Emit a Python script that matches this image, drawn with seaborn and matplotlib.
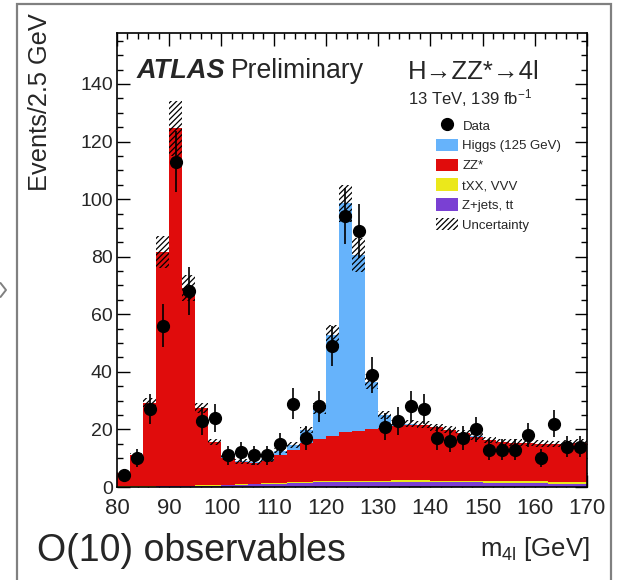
import numpy as np
import pandas as pd
import matplotlib
matplotlib.use('Agg')
import matplotlib.pyplot as plt
import seaborn as sns
from matplotlib.ticker import MultipleLocator
from matplotlib.patches import Patch, Rectangle
from matplotlib.lines import Line2D

# ---------------- data ----------------
bin_edges = np.arange(80, 170.01, 2.5)
bin_centers = (bin_edges[:-1] + bin_edges[1:]) / 2

data_counts = [4, 10, 27, 56, 113, 68, 23, 24, 11, 12, 11, 11,
               15, 29, 17, 28, 49, 94, 89, 39, 21, 23, 28, 27,
               17, 16, 17, 20, 13, 13, 13, 18, 10, 22, 14, 14]

higgs = [0, 0, 0, 0, 0, 0, 0, 0, 0.1, 0.2, 0.3, 0.4,
         1.6, 1.8, 4.6, 10.6, 35.0, 79.5, 61.0, 16.5, 4.4, 0.8, 0.3, 0.2,
         0.1, 0.1, 0.1, 0.1, 0.1, 0.1, 0.1, 0.1, 0.1, 0.1, 0.1, 0.1]

zz = [4.55, 10.85, 29.0, 81.35, 124.2, 68.55, 26.95, 14.85, 9.4, 7.7, 7.2, 7.9,
      9.55, 11.15, 13.4, 14.75, 15.75, 16.9, 17.4, 17.85, 18.35, 18.9, 19.4, 19.2,
      18.5, 17.55, 16.45, 15.35, 14.2, 13.5, 13.3, 13.2, 13.05, 13.05, 13.3, 13.5]

txx_vvv = [0.15, 0.15, 0.15, 0.15, 0.15, 0.15, 0.15, 0.15, 0.2, 0.2, 0.2, 0.2,
           0.25, 0.25, 0.3, 0.35, 0.35, 0.4, 0.4, 0.45, 0.45, 0.5, 0.5, 0.5,
           0.5, 0.55, 0.55, 0.55, 0.6, 0.6, 0.6, 0.6, 0.65, 0.65, 0.7, 0.7]

zjets_tt = [0.1, 0.1, 0.15, 0.2, 0.25, 0.3, 0.4, 0.5, 0.6, 0.8, 0.9, 1.1,
            1.2, 1.4, 1.5, 1.6, 1.7, 1.7, 1.8, 1.8, 1.8, 1.8, 1.8, 1.8,
            1.7, 1.7, 1.6, 1.6, 1.5, 1.5, 1.4, 1.4, 1.3, 1.2, 1.1, 1.1]

uncertainty = [0.5, 0.8, 1.5, 5.5, 9.5, 4.5, 1.8, 1.0, 0.8, 0.8, 0.8, 0.8,
               0.9, 1.0, 1.2, 1.8, 3.5, 6.5, 6.0, 2.5, 1.5, 1.3, 1.3, 1.3,
               1.2, 1.2, 1.2, 1.2, 1.1, 1.1, 1.1, 1.1, 1.1, 1.1, 1.1, 1.1]

process_names = ['Higgs (125 GeV)', 'ZZ*', 'tXX, VVV', 'Z+jets, tt']
process_colors = ['#66b3fb', '#e00c0c', '#ebe81b', '#7a40d3']

# ---------------- figure ----------------
sns.set_theme(style='ticks')
plt.rcParams['font.family'] = ['Liberation Sans', 'DejaVu Sans']
plt.rcParams['mathtext.fontset'] = 'custom'
plt.rcParams['mathtext.rm'] = 'Liberation Sans'
plt.rcParams['mathtext.it'] = 'Liberation Sans:italic'
plt.rcParams['hatch.linewidth'] = 0.9

W, H = 621, 580
fig = plt.figure(figsize=(W / 100, H / 100), dpi=100)
ax = fig.add_axes([117 / W, 1 - 487 / H, 470 / W, 454 / H])

df = pd.concat([
    pd.DataFrame({'m': bin_centers, 'w': vals, 'process': name})
    for name, vals in zip(process_names, [higgs, zz, txx_vvv, zjets_tt])
], ignore_index=True)

sns.histplot(data=df, x='m', weights='w', hue='process', hue_order=process_names,
             binwidth=2.5, binrange=(80, 170), multiple='stack', element='step', fill=True,
             palette=process_colors, alpha=1, linewidth=0, legend=False, ax=ax)

total = np.array(higgs) + np.array(zz) + np.array(txx_vvv) + np.array(zjets_tt)
unc = np.array(uncertainty)
ax.bar(bin_centers, 2 * unc, bottom=total - unc, width=2.5, fill=False,
       hatch='//////', linewidth=0, edgecolor='black', zorder=3)

data_arr = np.array(data_counts, dtype=float)
eb = ax.errorbar(bin_centers, data_arr, yerr=np.sqrt(data_arr), fmt='o',
                 color='black', ms=8.5, elinewidth=1.2, capsize=0, zorder=5)

ax.set_xlim(80, 170)
ax.set_ylim(0, 157.7)
ax.set_xlabel('')
ax.set_ylabel('')
ax.xaxis.set_major_locator(MultipleLocator(10))
ax.xaxis.set_minor_locator(MultipleLocator(2))
ax.yaxis.set_major_locator(MultipleLocator(20))
ax.yaxis.set_minor_locator(MultipleLocator(5))
ax.tick_params(which='both', direction='in', top=True, right=True, color='black')
ax.tick_params(which='major', length=9, width=1)
ax.tick_params(which='minor', length=4.5, width=1)
ax.tick_params(axis='x', labelsize=16, pad=8)
ax.tick_params(axis='y', labelsize=14, pad=3)
for s in ax.spines.values():
    s.set_linewidth(1.2)
    s.set_color('black')

# legend
handles = [eb,
           Patch(facecolor=process_colors[0], edgecolor='none'),
           Patch(facecolor=process_colors[1], edgecolor='none'),
           Patch(facecolor=process_colors[2], edgecolor='none'),
           Patch(facecolor=process_colors[3], edgecolor='none'),
           Patch(facecolor='none', edgecolor='black', hatch='//////', linewidth=0)]
labels = ['Data'] + process_names + ['Uncertainty']
ax.legend(handles, labels, loc='upper left', bbox_to_anchor=((436 - 117) / 470, 1 - (119 - 33) / 454),
          frameon=False, fontsize=9.5, handlelength=1.7, handleheight=1.05,
          labelspacing=0.47, handletextpad=0.3, borderpad=0, borderaxespad=0)

# texts
def fx(px):
    return px / W

def fy(py):
    return 1 - py / H

fig.text(fx(137), fy(78), 'ATLAS', fontsize=19.5, weight='bold', style='italic', va='baseline')
fig.text(fx(231), fy(78), 'Preliminary', fontsize=19.2, va='baseline')
fig.text(fx(408), fy(79), 'H\u2192ZZ*\u21924l', fontsize=18.5, va='baseline')
fig.text(fx(408), fy(104), '13 TeV, 139 fb$^{-1}$', fontsize=12, va='baseline')
fig.text(fx(40), fy(13), 'Events/2.5 GeV', fontsize=18.3, rotation=90, ha='center', va='top')
fig.text(fx(37), fy(561), 'O(10) observables', fontsize=27, va='baseline')
fig.text(fx(590), fy(556), 'm$_{\\mathrm{4l}}$ [GeV]', fontsize=18.5, ha='right', va='baseline')

# slide frame and chevron
fig.add_artist(Rectangle((fx(17), -0.1), fx(611) - fx(17), fy(4) + 0.1, transform=fig.transFigure,
                         fill=False, edgecolor='#808080', linewidth=1.6, clip_on=False))
fig.add_artist(Line2D([fx(0.5), fx(6), fx(0.5)], [fy(283), fy(290), fy(297)],
                      transform=fig.transFigure, color='#808080', linewidth=1.4))

fig.savefig('out.png', dpi=100)
